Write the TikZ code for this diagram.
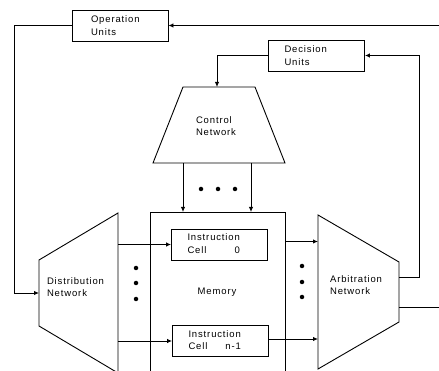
\documentclass[tikz,border=0pt]{standalone}
\usepackage{fontspec}
\newfontfamily\lbl[LetterSpace=9]{Liberation Sans}
\usetikzlibrary{arrows.meta}

\begin{document}
\begin{tikzpicture}[x=1pt,y=-1pt,line width=0.9pt,
  >={Latex[length=5pt,width=4.5pt]},
  txt/.style={font=\lbl\fontsize{9.5}{12.5}\selectfont, align=left, inner sep=0},
  box/.style={draw, txt, text width=64pt, inner xsep=16pt, minimum height=31pt},
  d/.style={circle, fill, inner sep=0, minimum size=4.5pt}]
  \useasboundingbox (0,0) rectangle (439,371);

  % units on top
  \node[box] (ou) at (120,25.5) {\hspace*{3pt}Operation\\\hspace*{3pt}Units};
  \node[box] (du) at (316.5,55.5) {Decision\\Units};

  % control network
  \coordinate (cn-tl) at (183,87);  \coordinate (cn-tr) at (255,87);
  \coordinate (cn-br) at (285,163); \coordinate (cn-bl) at (153,163);
  \draw (cn-tl) -- (cn-tr) -- (cn-br) -- (cn-bl) -- cycle;
  \coordinate (cn-top) at (217,87);
  \node[txt] (cnt) at (216,126) {Control\\Network};

  % memory, cut off at the bottom
  \node[draw, minimum width=135pt, minimum height=190pt, inner sep=0] (mem) at (217.5,307) {};
  \node[txt] (memt) at (217,292) {Memory};
  \node[box] (c0) at (219.5,244.5) {\begin{tabular}{@{}l@{}}Instruction\\Cell\hfill 0\end{tabular}};
  \node[box] (cn1) at (220.5,341) {\begin{tabular}{@{}l@{}}Instruction\\Cell\hfill n-1\end{tabular}};

  % distribution network
  \coordinate (dn-lt) at (39,260);  \coordinate (dn-lb) at (39,326);
  \coordinate (dn-rt) at (118,213); \coordinate (dn-rb) at (118,373);
  \draw (dn-lt) -- (dn-rt) -- (dn-rb) -- (dn-lb) -- cycle;
  \coordinate (dn-w) at (39,293);
  \node[txt] (dnt) at (75.5,287) {Distribution\\Network};

  % arbitration network
  \coordinate (an-lt) at (318,215); \coordinate (an-lb) at (318,369);
  \coordinate (an-rt) at (399,262); \coordinate (an-rb) at (399,322);
  \draw (an-lt) -- (an-rt) -- (an-rb) -- (an-lb) -- cycle;
  \coordinate (an-o1) at (399,277); \coordinate (an-o2) at (399,307);
  \node[txt] (ant) at (356,285) {Arbitration\\Network};

  % free ends at the right border
  \coordinate (in) at (439,25.5);
  \coordinate (out) at (439,307);

  % connectors
  \draw[->] (in) -- (ou.east);
  \draw[->] (ou.west) -| ([xshift=-25pt]dn-w) -- (dn-w);
  \draw[->] (an-o1) -| ([xshift=54pt]du.east) -- (du.east);
  \draw[->] (du.west) -| (cn-top);
  \draw (an-o2) -- (out);
  \foreach \x in {183,251}
    \draw[->] (\x,163) -- (\x,212);
  \draw[->] (c0.west -| dn-rt) -- (c0.west);
  \draw[->] (cn1.west -| dn-rt) -- (cn1.west);
  \draw[->] ([yshift=3pt]c0.east -| mem.east) -- ([yshift=3pt]c0.east -| an-lt);
  \draw[->] ([yshift=2pt]cn1.east) -- ([yshift=2pt]cn1.east -| an-lt);

  % dots
  \foreach \x in {201,218,235} \node[d] at (\x,189) {};
  \foreach \y in {268,283,299} \node[d] at (136,\y) {};
  \foreach \y in {266,282,297} \node[d] at (302,\y) {};
\end{tikzpicture}
\end{document}
